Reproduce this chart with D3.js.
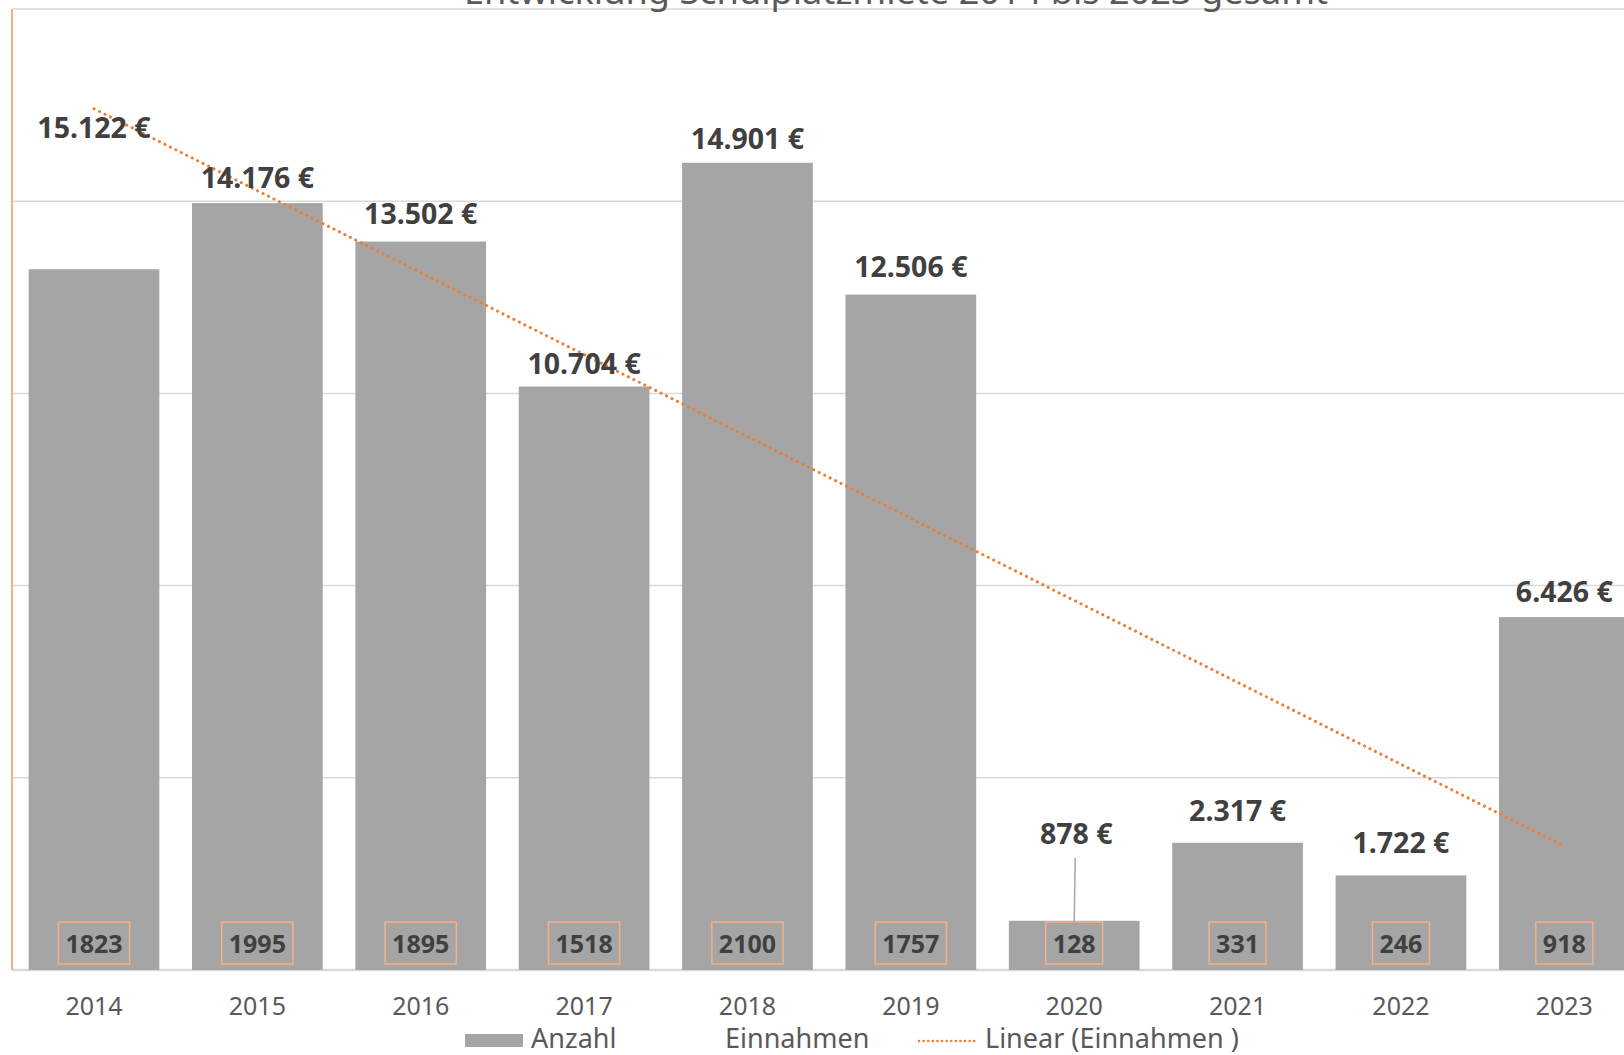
<!DOCTYPE html>
<html>
<head>
<meta charset="utf-8">
<script src="https://cdn.jsdelivr.net/npm/d3@7"></script>
<style>
  html, body { margin: 0; padding: 0; background: #fff; overflow: hidden; }
  svg { display: block; font-family: "Noto Sans", "Open Sans", sans-serif; }
</style>
</head>
<body>
<svg id="chart"></svg>
<script>
let w = 1624;
let h = 1055;

// data
const years = ['2014', '2015', '2016', '2017', '2018', '2019', '2020', '2021', '2022', '2023'];
const anzahl = [1823, 1995, 1895, 1518, 2100, 1757, 128, 331, 246, 918];
const einnahmen = [15122, 14176, 13502, 10704, 14901, 12506, 878, 2317, 1722, 6426];
const einnahmenLabels = ['15.122 €', '14.176 €', '13.502 €', '10.704 €', '14.901 €', '12.506 €', '878 €', '2.317 €', '1.722 €', '6.426 €'];
const gridTicks = [0, 500, 1000, 1500, 2000, 2500];

const svg = d3.select('#chart')
  .attr('width', w)
  .attr('height', h)

const plotTop = 9;
const base = 970;

// Scales
const xScale = d3.scaleBand()
  .domain(years)
  .range([12.3, 1646])
  .paddingInner(0.2)
  .paddingOuter(0.1)

const yScale = d3.scaleLinear()
  .domain([0, 2500])
  .range([base, plotTop])

// secondary axis for Einnahmen (hidden)
const y2Scale = d3.scaleLinear()
  .domain([0, 18000])
  .range([base, plotTop])

const cx = d => xScale(d) + xScale.bandwidth() / 2

// gridlines
svg.append('g')
  .selectAll('line')
  .data(gridTicks)
  .enter()
  .append('line')
  .attr('x1', 12)
  .attr('x2', w)
  .attr('y1', d => yScale(d))
  .attr('y2', d => yScale(d))
  .attr('stroke', '#d9d9d9')
  .attr('stroke-width', d => d == 0 ? 2.5 : 1.5)

// title (cut off at top, as in the original)
svg.append('text')
  .attr('x', 896)
  .attr('y', 4)
  .attr('text-anchor', 'middle')
  .attr('font-size', '34px')
  .attr('fill', '#595959')
  .attr('textLength', 864)
  .attr('lengthAdjust', 'spacingAndGlyphs')
  .text('Entwicklung Schulplatzmiete 2014 bis 2023 gesamt')

// bars
svg.append('g')
  .selectAll('rect')
  .data(anzahl)
  .enter()
  .append('rect')
  .attr('x', (d, i) => xScale(years[i]))
  .attr('width', xScale.bandwidth())
  .attr('y', d => yScale(d))
  .attr('height', d => base - yScale(d))
  .attr('fill', '#a5a5a5')

// left axis line
svg.append('line')
  .attr('x1', 12).attr('x2', 12)
  .attr('y1', plotTop).attr('y2', base)
  .attr('stroke', '#f4b183')
  .attr('stroke-width', 2)

// trendline (linear regression on Einnahmen)
const n = einnahmen.length
const xs = d3.range(1, n + 1)
const mx = d3.mean(xs)
const my = d3.mean(einnahmen)
const slope = d3.sum(xs, (x, i) => (x - mx) * (einnahmen[i] - my)) / d3.sum(xs, x => (x - mx) * (x - mx))
const icpt = my - slope * mx

svg.append('line')
  .attr('x1', cx(years[0]))
  .attr('y1', y2Scale(icpt + slope * 1))
  .attr('x2', cx(years[n - 1]))
  .attr('y2', y2Scale(icpt + slope * n))
  .attr('stroke', '#ed7d31')
  .attr('stroke-width', 3)
  .attr('stroke-linecap', 'round')
  .attr('stroke-dasharray', '0.1 6')

// count labels in boxes
const countG = svg.append('g')
anzahl.forEach((d, i) => {
  const t = countG.append('text')
    .attr('x', cx(years[i]))
    .attr('y', 953)
    .attr('text-anchor', 'middle')
    .attr('font-size', '25px')
    .attr('font-weight', 'bold')
    .attr('fill', '#404040')
    .text(d)
  const tw = t.node().getComputedTextLength()
  countG.insert('rect', 'text')
    .attr('x', cx(years[i]) - tw / 2 - 7)
    .attr('y', 922)
    .attr('width', tw + 14)
    .attr('height', 42)
    .attr('fill', 'none')
    .attr('stroke', '#f4b183')
    .attr('stroke-width', 1.5)
})

// Einnahmen labels
const labG = svg.append('g')
einnahmen.forEach((d, i) => {
  let ly = y2Scale(d) - 25
  if (years[i] == '2020') {
    ly = 844
    labG.append('line')
      .attr('x1', cx(years[i]) + 1).attr('y1', 858)
      .attr('x2', cx(years[i])).attr('y2', y2Scale(d))
      .attr('stroke', '#a6a6a6')
      .attr('stroke-width', 1.5)
  }
  labG.append('text')
    .attr('x', cx(years[i]) + (years[i] == '2020' ? 2 : 0))
    .attr('y', ly)
    .attr('text-anchor', 'middle')
    .attr('font-size', '28.5px')
    .attr('font-weight', 'bold')
    .attr('fill', '#404040')
    .text(einnahmenLabels[i])
})

// x axis labels
const xAxis = d3.axisBottom(xScale).tickSize(0).tickPadding(0)
const xg = svg.append('g')
  .attr('transform', 'translate(0,' + base + ')')
  .call(xAxis)
xg.select('.domain').remove()
xg.selectAll('text')
  .attr('y', 45)
  .attr('dy', null)
  .attr('font-size', '25px')
  .attr('font-family', '"Noto Sans", sans-serif')
  .attr('fill', '#595959')

// Legend
const lg = svg.append('g').attr('font-size', '27px').attr('fill', '#595959')
lg.append('rect')
  .attr('x', 465).attr('y', 1034)
  .attr('width', 58).attr('height', 13)
  .attr('fill', '#a5a5a5')
lg.append('text').attr('x', 531).attr('y', 1048).text('Anzahl')
lg.append('text').attr('x', 725).attr('y', 1048).text('Einnahmen')
lg.append('line')
  .attr('x1', 919).attr('x2', 977)
  .attr('y1', 1041).attr('y2', 1041)
  .attr('stroke', '#ed7d31')
  .attr('stroke-width', 2.5)
  .attr('stroke-linecap', 'round')
  .attr('stroke-dasharray', '0.1 4.5')
lg.append('text').attr('x', 985).attr('y', 1048).text('Linear (Einnahmen )')
</script>
</body>
</html>
